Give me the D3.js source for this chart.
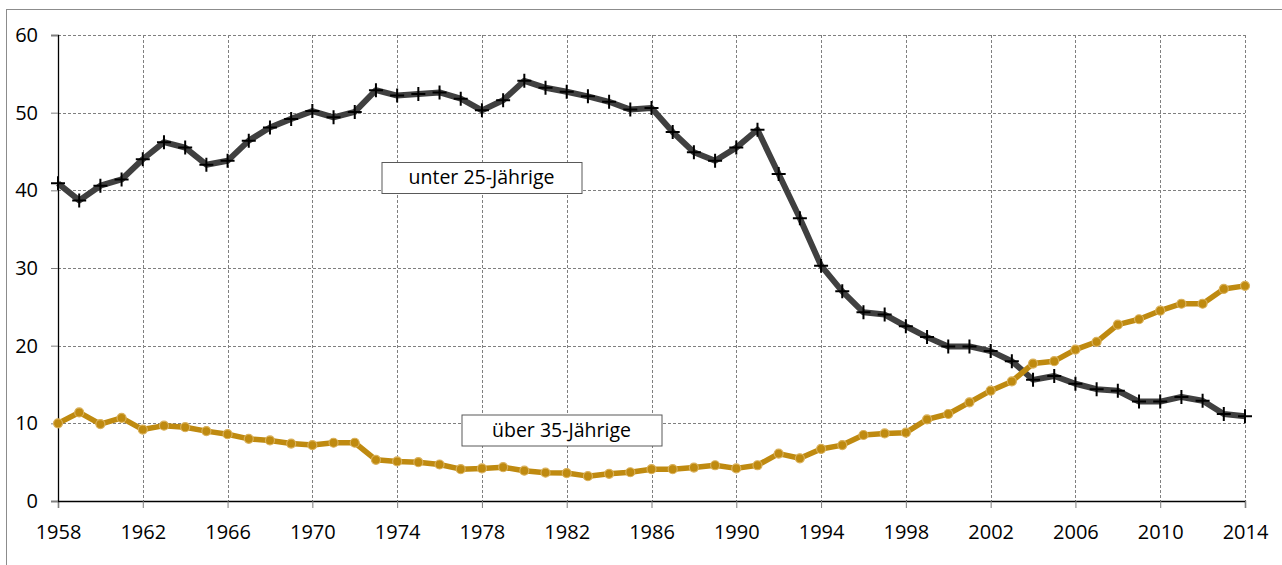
<!DOCTYPE html>
<html>
<head>
<meta charset="utf-8">
<style>
  body { margin: 0; background: #fff; }
  text { font-family: "Open Sans", "Noto Sans", sans-serif; fill: #000; }
  .grid line { stroke: #7f7f7f; stroke-dasharray: 3,2; stroke-width: 1; }
</style>
</head>
<body>
<svg width="1282" height="565"></svg>
<script src="https://d3js.org/d3.v7.min.js"></script>
<script>

var years = d3.range(1958, 2015);

var unter25 = [40.9, 38.7, 40.6, 41.4, 44.0, 46.2, 45.5, 43.3, 43.8, 46.4,
  48.1, 49.2, 50.2, 49.4, 50.1, 52.9, 52.2, 52.4, 52.6, 51.8,
  50.3, 51.6, 54.1, 53.2, 52.7, 52.1, 51.4, 50.4, 50.6, 47.5,
  44.9, 43.8, 45.5, 47.8, 42.1, 36.4, 30.3, 27.0, 24.3, 24.0,
  22.5, 21.1, 19.9, 19.9, 19.3, 18.0, 15.6, 16.1, 15.1, 14.4,
  14.2, 12.8, 12.8, 13.4, 12.9, 11.2, 10.9];

var ueber35 = [10.0, 11.4, 9.9, 10.7, 9.2, 9.7, 9.5, 9.0, 8.6, 8.0,
  7.8, 7.4, 7.2, 7.5, 7.5, 5.3, 5.1, 5.0, 4.7, 4.1,
  4.2, 4.35, 3.9, 3.65, 3.6, 3.2, 3.5, 3.7, 4.1, 4.1,
  4.3, 4.6, 4.2, 4.6, 6.1, 5.5, 6.7, 7.2, 8.5, 8.7,
  8.8, 10.5, 11.2, 12.7, 14.2, 15.4, 17.7, 18.0, 19.5, 20.5,
  22.7, 23.4, 24.5, 25.4, 25.4, 27.3, 27.7];

var xTicks = d3.range(1958, 2015, 4);
var yTicks = [0, 10, 20, 30, 40, 50, 60];

var svg = d3.select("svg"),
    margin = {top: 35, right: 37, bottom: 64, left: 58},
    width = +svg.attr("width") - margin.left - margin.right,
    height = +svg.attr("height") - margin.top - margin.bottom;

// outer frame (runs past the image on right/bottom)
svg.append("rect")
    .attr("x", 6.5).attr("y", 9.5)
    .attr("width", 1400).attr("height", 700)
    .attr("fill", "none").attr("stroke", "#8c8c8c").attr("stroke-width", 1);

var g = svg.append("g").attr("transform", "translate(" + margin.left + "," + margin.top + ")");

var x = d3.scaleLinear().domain([1958, 2014]).range([0, width]);
var y = d3.scaleLinear().domain([0, 60]).range([height, 0]);

// grid
var grid = g.append("g").attr("class", "grid");
grid.selectAll(".v").data(xTicks.slice(1)).enter().append("line")
    .attr("x1", function(d) { return Math.round(x(d)) + 0.5; })
    .attr("x2", function(d) { return Math.round(x(d)) + 0.5; })
    .attr("y1", 0).attr("y2", height);
grid.selectAll(".h").data(yTicks.slice(1)).enter().append("line")
    .attr("x1", 0).attr("x2", width)
    .attr("y1", function(d) { return Math.round(y(d)) + 0.5; })
    .attr("y2", function(d) { return Math.round(y(d)) + 0.5; });

// axes
var xAxis = g.append("g")
    .attr("transform", "translate(0," + height + ")")
    .call(d3.axisBottom(x).tickValues(xTicks).tickFormat(d3.format("d")).tickSize(7).tickPadding(17));
var yAxis = g.append("g")
    .call(d3.axisLeft(y).tickValues(yTicks).tickSize(7).tickPadding(13));

[xAxis, yAxis].forEach(function(a) {
  a.select(".domain").attr("stroke", "#000").attr("stroke-width", 1.3);
  a.selectAll(".tick line").attr("stroke", "#7f7f7f");
  a.selectAll(".tick text").style("font-size", "20px").attr("fill", "#000");
});
xAxis.selectAll(".tick text").attr("dy", "0.71em");

// lines
var line = function(vals) {
  return d3.line()
    .x(function(d, i) { return x(years[i]); })
    .y(function(d) { return y(d); })(vals);
};

g.append("path")
    .attr("d", line(unter25))
    .attr("fill", "none")
    .attr("stroke", "#404040")
    .attr("stroke-width", 6)
    .attr("stroke-linejoin", "round");

g.selectAll(".plus").data(unter25).enter().append("path")
    .attr("transform", function(d, i) { return "translate(" + x(years[i]) + "," + y(d) + ")"; })
    .attr("d", "M-7,0H7M0,-7V7")
    .attr("stroke", "#000")
    .attr("stroke-width", 2);

g.append("path")
    .attr("d", line(ueber35))
    .attr("fill", "none")
    .attr("stroke", "#bf8a10")
    .attr("stroke-width", 5.5)
    .attr("stroke-linejoin", "round");

g.selectAll(".dot").data(ueber35).enter().append("circle")
    .attr("cx", function(d, i) { return x(years[i]); })
    .attr("cy", function(d) { return y(d); })
    .attr("r", 4.5)
    .attr("fill", "#bf8a10")
    .attr("stroke", "#d9b05a")
    .attr("stroke-width", 1.2);

// series labels
function labelBox(cx, cy, w, h, txt) {
  svg.append("rect")
      .attr("x", cx - w / 2 + 0.5).attr("y", cy - h / 2 + 0.5)
      .attr("width", w).attr("height", h)
      .attr("fill", "#fff").attr("stroke", "#595959").attr("stroke-width", 1);
  svg.append("text")
      .attr("x", cx).attr("y", cy)
      .attr("dy", "0.35em")
      .attr("text-anchor", "middle")
      .style("font-size", "19.5px")
      .text(txt);
}
labelBox(481.5, 177.5, 200, 31, "unter 25-Jährige");
labelBox(561.5, 430, 200, 31, "über 35-Jährige");

</script>
</body>
</html>
